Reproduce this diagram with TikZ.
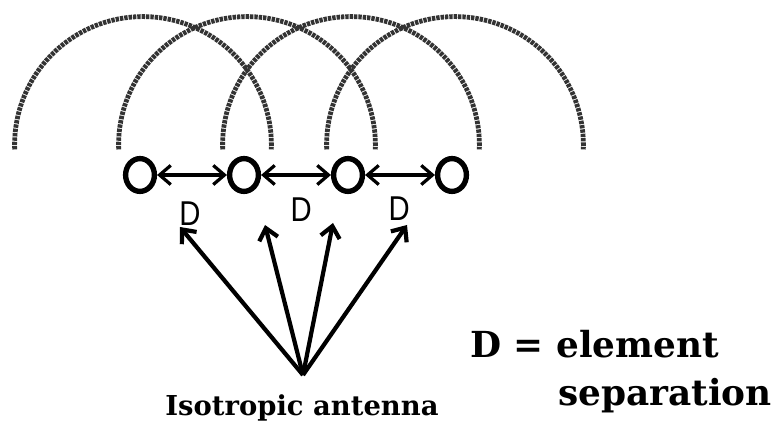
\documentclass[tikz,border=0pt]{standalone}
\usepackage{fontspec}
\newfontfamily\dfont{Liberation Sans}[FakeStretch=0.85]
\newfontfamily\txtfont{DejaVu Serif}
\usetikzlibrary{arrows.meta,shapes.geometric}
\begin{document}
\begin{tikzpicture}[>={Straight Barb[length=2.8mm,width=4.8mm]},
  ant/.style={draw, ellipse, line width=3.8pt, minimum width=7.2mm, minimum height=8.2mm, inner sep=0pt},
  wave/.style={draw=black!80, line width=3.4pt, dash pattern=on 2.4pt off 0.7pt},
  sep/.style={<->, line width=2.3pt},
  ray/.style={->, line width=3pt},
  dlabel/.style={font=\dfont\fontsize{24.5}{28}\selectfont, inner sep=0pt},
  txt/.style={font=\txtfont\bfseries\fontsize{#1}{#1}\selectfont},
  ]
  \useasboundingbox (0,0) rectangle (19.55,10.75);

  % Antennen in einer Reihe
  \foreach \i in {1,...,4}
    \node[ant] (a\i) at ({3.5+2.6*(\i-1)},6.375) {};

  % Wellenfronten um jedes Element
  \foreach \i in {1,...,4}
    \draw[wave] ([shift={(0.075,0.75)}]a\i.center) ++(182:3.21)
      arc[start angle=182, end angle=-2, radius=3.21];

  % Abstaende D
  \foreach \i/\j in {1/2,2/3,3/4}
    \draw[sep] (a\i) -- (a\j);
  \node[dlabel] (d1) at (4.75,5.42) {D};
  \node[dlabel] (d2) at (7.53,5.5) {D};
  \node[dlabel] (d3) at (9.98,5.53) {D};

  % Strahlen der Quelle
  \coordinate (src) at (7.575,1.375);
  \coordinate (t1) at (4.5,5.075);
  \coordinate (t2) at (6.625,5.125);
  \coordinate (t3) at (8.325,5.175);
  \coordinate (t4) at (10.175,5.125);
  \foreach \t in {t1,t2,t3,t4}
    \draw[ray] (src) -- (\t);

  \node[anchor=base, txt=19.5] (iso) at (7.55,0.35) {Isotropic antenna};

  % Legende
  \node[anchor=base west, txt=25.5, inner sep=0pt] (leg1) at (11.75,1.8) {D = element};
  \node[anchor=base west, txt=25.5, inner sep=0pt] (leg2) at (13.95,0.62) {separation};
\end{tikzpicture}
\end{document}
